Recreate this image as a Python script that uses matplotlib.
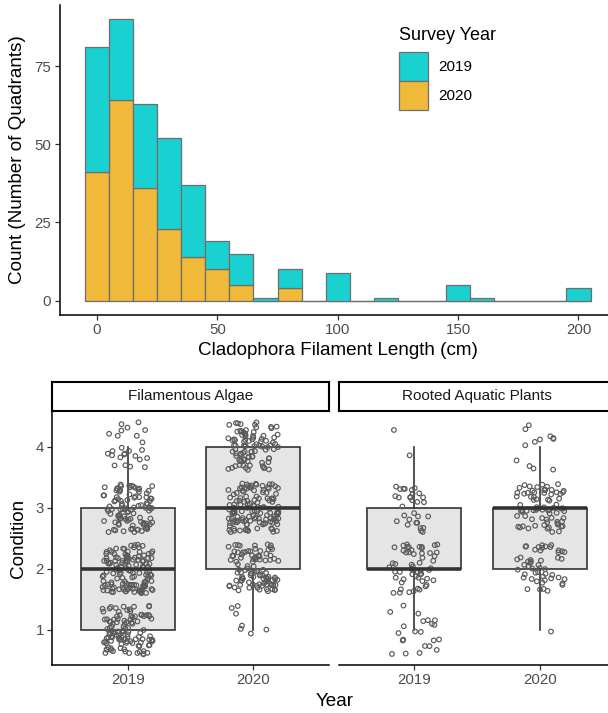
import numpy as np
import matplotlib.pyplot as plt
from matplotlib.patches import Rectangle

plt.rcParams['font.family'] = ['Liberation Sans', 'DejaVu Sans']

# histogram: bin centres (cm) and counts per survey year
bin_centres = np.arange(0, 201, 10)
counts_2019 = [40, 26, 27, 29, 23, 9, 10, 1, 6, 0, 9, 0, 1, 0, 0, 5, 1, 0, 0, 0, 4]
counts_2020 = [41, 64, 36, 23, 14, 10, 5, 0, 4, 0, 0, 0, 0, 0, 0, 0, 0, 0, 0, 0, 0]

# condition scores: number of quadrants at each level 1..4
levels = [1, 2, 3, 4]
years = ["2019", "2020"]
panels = ["Filamentous Algae", "Rooted Aquatic Plants"]
algae_2019 = [110, 130, 100, 25]
algae_2020 = [7, 100, 130, 90]
rooted_2019 = [22, 55, 30, 2]
rooted_2020 = [1, 50, 75, 12]
panel_counts = [[algae_2019, algae_2020], [rooted_2019, rooted_2020]]

CYAN = "#1AD1D1"
ORANGE = "#F0B93A"
EDGE = "#6E6E6E"
TICK_C = "#4D4D4D"
W, H = 608, 713


def px_axes(fig, left, top, right, bottom):
    return fig.add_axes([left / W, 1 - bottom / H, (right - left) / W, (bottom - top) / H])


def style_axes(ax, left_spine=True):
    for s in ["top", "right"]:
        ax.spines[s].set_visible(False)
    ax.spines["left"].set_visible(left_spine)
    for s in ["left", "bottom"]:
        ax.spines[s].set_linewidth(1.1)
    ax.tick_params(length=3.5, width=0.9, color="#333333", labelcolor=TICK_C,
                   labelsize=10.8, pad=2.5)
    ax.set_facecolor("none")


def hash01(i, a):
    # deterministic scatter in [0, 1) used only for the point jitter
    v = np.sin(i * a) * 43758.5453
    return v - np.floor(v)


def jitter(n, seed):
    i = np.arange(n) + seed * 1000 + 1
    dx = hash01(i, 12.9898) - 0.5
    dy = hash01(i, 78.233) - 0.5
    return dx * 0.4, dy * 0.8


fig = plt.figure(figsize=(W / 100, H / 100), dpi=100)

# ---- top: stacked histogram
ax = px_axes(fig, 59.7, 5, 615.8, 314.8)
style_axes(ax)
ax.bar(bin_centres, counts_2020, width=10, color=ORANGE, edgecolor=EDGE, linewidth=0.9)
ax.bar(bin_centres, counts_2019, width=10, bottom=counts_2020, color=CYAN,
       edgecolor=EDGE, linewidth=0.9)
ax.set_xlim(-15.5, 215.5)
ax.set_ylim(-4.5, 94.5)
ax.set_xticks([0, 50, 100, 150, 200])
ax.set_yticks([0, 25, 50, 75])

# legend drawn in pixel positions
fig.text(399 / W, 1 - 35 / H, "Survey Year", ha="left", va="center", fontsize=13)
for k, (col, lab) in enumerate(zip([CYAN, ORANGE], years)):
    top = 52 + 29 * k
    fig.patches.append(Rectangle((399 / W, 1 - (top + 29) / H), 29 / W, 29 / H,
                                 transform=fig.transFigure, facecolor=col,
                                 edgecolor=EDGE, linewidth=0.9))
    fig.text(438 / W, 1 - (top + 15) / H, lab, ha="left", va="center", fontsize=11)

fig.text(18 / W, 1 - 160 / H, "Count (Number of Quadrants)", rotation=90,
         ha="center", va="center", fontsize=13.6)
fig.text(337.7 / W, 1 - 351 / H, "Cladophora Filament Length (cm)",
         ha="center", va="center", fontsize=13.6)

# ---- bottom: faceted boxplots with jittered points
lefts = [52.3, 339.0]
for p, name in enumerate(panels):
    l = lefts[p]
    r = l + 276.4
    bx = px_axes(fig, l, 411, r, 665)
    style_axes(bx, left_spine=(p == 0))
    data = [np.repeat(levels, c) for c in panel_counts[p]]
    bx.boxplot(data, positions=[1, 2], widths=0.75, whis=1.5, showfliers=False,
               patch_artist=True,
               boxprops=dict(facecolor="#E5E5E5", edgecolor="#333333", linewidth=1.2),
               whiskerprops=dict(color="#333333", linewidth=1.2),
               capprops=dict(linewidth=0),
               medianprops=dict(color="#333333", linewidth=2.6, solid_capstyle="butt", zorder=4),
               zorder=2)
    for k, vals in enumerate(data):
        dx, dy = jitter(len(vals), seed=2 * p + k)
        bx.scatter(k + 1 + dx, vals + dy, s=11, facecolors="none", edgecolors="#5A5A5A",
                   linewidths=0.85, zorder=3)
    bx.set_xlim(0.4, 2.6)
    bx.set_ylim(0.425, 4.585)
    bx.set_xticks([1, 2], years)
    if p == 0:
        bx.set_yticks(levels)
    else:
        bx.set_yticks([])
    # strip
    st = px_axes(fig, l, 382, r, 411)
    st.set_xticks([])
    st.set_yticks([])
    for s in st.spines.values():
        s.set_linewidth(1.5)
        s.set_color("black")
    st.text(0.5, 0.5, name, ha="center", va="center", fontsize=11, color="#1A1A1A",
            transform=st.transAxes)

fig.text(18 / W, 1 - 538 / H, "Condition", rotation=90, ha="center", va="center", fontsize=13.6)
fig.text(335 / W, 1 - 702 / H, "Year", ha="center", va="center", fontsize=13.6)

fig.savefig("out.png", dpi=100, facecolor="white")
